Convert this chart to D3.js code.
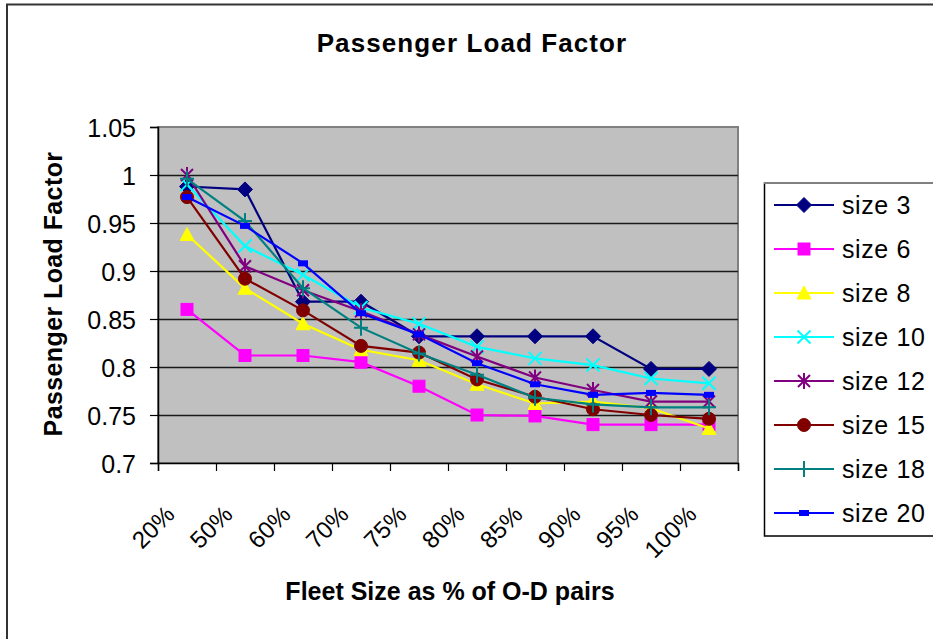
<!DOCTYPE html>
<html><head><meta charset="utf-8">
<script src="https://cdn.jsdelivr.net/npm/d3@7"></script>
<style>
html,body{margin:0;padding:0;background:#fff;}
text{font-family:"Liberation Sans",Arial,sans-serif;fill:#000;}
</style></head>
<body>
<svg id="chart" width="933" height="639"></svg>
<script>
const categories = ["20%","50%","60%","70%","75%","80%","85%","90%","95%","100%"];
const seriesNames = ["size 3","size 6","size 8","size 10","size 12","size 15","size 18","size 20"];
const size3  = [0.988,0.985,0.868,0.868,0.832,0.832,0.832,0.832,0.798,0.798];
const size6  = [0.860,0.812,0.812,0.805,0.780,0.750,0.749,0.740,0.740,0.740];
const size8  = [0.938,0.882,0.845,0.818,0.807,0.782,0.762,0.764,0.757,0.736];
const size10 = [0.990,0.926,0.896,0.862,0.845,0.821,0.809,0.802,0.788,0.783];
const size12 = [1.000,0.905,0.880,0.858,0.834,0.811,0.789,0.776,0.764,0.764];
const size15 = [0.977,0.892,0.859,0.822,0.815,0.787,0.769,0.756,0.750,0.746];
const size18 = [0.996,0.952,0.882,0.841,0.814,0.792,0.768,0.761,0.758,0.758];
const size20 = [0.977,0.947,0.908,0.856,0.834,0.804,0.782,0.771,0.773,0.771];
const yTicks = [0.7,0.75,0.8,0.85,0.9,0.95,1,1.05];
const colors = ["#000080","#FF00FF","#FFFF00","#00FFFF","#800080","#800000","#008080","#0000FF"];
const markers = ["diamond","square","triangle","x","star","circle","plus","dash"];
const allValues = [size3,size6,size8,size10,size12,size15,size18,size20];

const series = seriesNames.map((n,i)=>({name:n,values:allValues[i],color:colors[i],marker:markers[i]}));

const svg = d3.select("#chart");
svg.append("rect").attr("width",933).attr("height",639).attr("fill","#fff");
// outer chart border
svg.append("rect").attr("x",7).attr("y",4.5).attr("width",960).attr("height",700)
  .attr("fill","none").attr("stroke","#333").attr("stroke-width",2);

const pL=158, pR=738, pT=127, pB=463;
const x = d3.scaleBand().domain(categories).range([pL,pR]).paddingInner(0).paddingOuter(0);
const xEdge = d3.scaleLinear().domain([0,categories.length]).range([pL,pR]);
const y = d3.scaleLinear().domain([0.7,1.05]).range([pB,pT]);

// plot area
svg.append("rect").attr("x",pL).attr("y",pT).attr("width",pR-pL).attr("height",pB-pT)
  .attr("fill","#C0C0C0").attr("stroke","#808080").attr("stroke-width",2);

// gridlines
svg.append("g").selectAll("line").data(yTicks.filter(t=>t>0.7 && t<1.05)).join("line")
  .attr("x1",pL).attr("x2",pR).attr("y1",d=>Math.round(y(d))+0.5).attr("y2",d=>Math.round(y(d))+0.5)
  .attr("stroke","#1a1a1a").attr("stroke-width",1.3);

// y axis
const yAxis = svg.append("g").attr("transform",`translate(${pL},0)`)
  .call(d3.axisLeft(y).tickValues(yTicks).tickSize(8).tickPadding(14).tickFormat(d3.format("~g")));
yAxis.select(".domain").attr("stroke","#000").attr("stroke-width",1.5);
yAxis.selectAll(".tick line").attr("stroke","#000").attr("stroke-width",1.2);
yAxis.selectAll("text").attr("font-size",25).attr("font-family","Liberation Sans, Arial, sans-serif").attr("fill","#000").attr("dy","0.36em");

// x axis (ticks at category edges)
const xAxis = svg.append("g").attr("transform",`translate(0,${pB})`)
  .call(d3.axisBottom(xEdge).tickValues(d3.range(categories.length+1)).tickSize(8).tickFormat(""));
xAxis.select(".domain").attr("stroke","#000").attr("stroke-width",1.5);
xAxis.selectAll(".tick line").attr("stroke","#000").attr("stroke-width",1.2);

// x tick labels
svg.append("g").selectAll("text").data(categories).join("text")
  .attr("transform",d=>`translate(${x(d)+x.bandwidth()/2-11},516) rotate(-45)`)
  .attr("text-anchor","end").attr("font-size",24).text(d=>d);

// marker drawing
function drawMarker(g, type, color){
  switch(type){
    case "diamond": g.append("path").attr("d","M0,-7.5L7.5,0L0,7.5L-7.5,0Z").attr("fill",color).attr("stroke",color); break;
    case "square": g.append("rect").attr("x",-6).attr("y",-6).attr("width",12).attr("height",12).attr("fill",color).attr("stroke",color); break;
    case "triangle": g.append("path").attr("d","M0,-7L7,6L-7,6Z").attr("fill",color).attr("stroke",color); break;
    case "circle": g.append("circle").attr("r",6.5).attr("fill",color).attr("stroke",color); break;
    case "x": g.append("path").attr("d","M-6.5,-6.5L6.5,6.5M-6.5,6.5L6.5,-6.5").attr("stroke",color).attr("stroke-width",2).attr("fill","none"); break;
    case "star": g.append("path").attr("d","M-6,-6L6,6M-6,6L6,-6M0,-8L0,8").attr("stroke",color).attr("stroke-width",2).attr("fill","none"); break;
    case "plus": g.append("path").attr("d","M0,-8L0,8M-7,0L7,0").attr("stroke",color).attr("stroke-width",2).attr("fill","none"); break;
    case "dash": g.append("rect").attr("x",-5).attr("y",-3).attr("width",10).attr("height",6).attr("fill",color); break;
  }
}

const line = d3.line().x((d,i)=>x(categories[i])+x.bandwidth()/2).y(d=>y(d));
series.forEach(s=>{
  const g = svg.append("g");
  g.append("path").datum(s.values).attr("d",line).attr("fill","none").attr("stroke",s.color).attr("stroke-width",2.2);
  s.values.forEach((v,i)=>{
    const m = g.append("g").attr("transform",`translate(${x(categories[i])+x.bandwidth()/2},${y(v)})`);
    drawMarker(m, s.marker, s.color);
  });
});

// legend
const lg = svg.append("g");
lg.append("rect").attr("x",764.5).attr("y",183).attr("width",180).attr("height",353)
  .attr("fill","#fff").attr("stroke","#000").attr("stroke-width",1.5);
lg.append("line").attr("x1",764).attr("x2",945).attr("y1",183).attr("y2",183).attr("stroke","#808080").attr("stroke-width",2);
series.forEach((s,i)=>{
  const ry = 205 + i*44;
  const row = lg.append("g").attr("transform",`translate(0,${ry})`);
  row.append("line").attr("x1",774).attr("x2",834).attr("y1",0).attr("y2",0).attr("stroke",s.color).attr("stroke-width",2.2);
  const m = row.append("g").attr("transform","translate(804,0)");
  drawMarker(m, s.marker, s.color);
  row.append("text").attr("x",842).attr("y",9).attr("font-size",25).attr("letter-spacing",0.6).text(s.name);
});

// titles
svg.append("text").attr("x",472).attr("y",52).attr("text-anchor","middle")
  .attr("font-size",26).attr("font-weight","bold").attr("letter-spacing",1.1).text("Passenger Load Factor");
svg.append("text").attr("transform","translate(62,294) rotate(-90)").attr("text-anchor","middle")
  .attr("font-size",25).attr("font-weight","bold").attr("letter-spacing",0.4).text("Passenger Load Factor");
svg.append("text").attr("x",450).attr("y",600).attr("text-anchor","middle")
  .attr("font-size",25).attr("font-weight","bold").text("Fleet Size as % of O-D pairs");
</script>
</body></html>
